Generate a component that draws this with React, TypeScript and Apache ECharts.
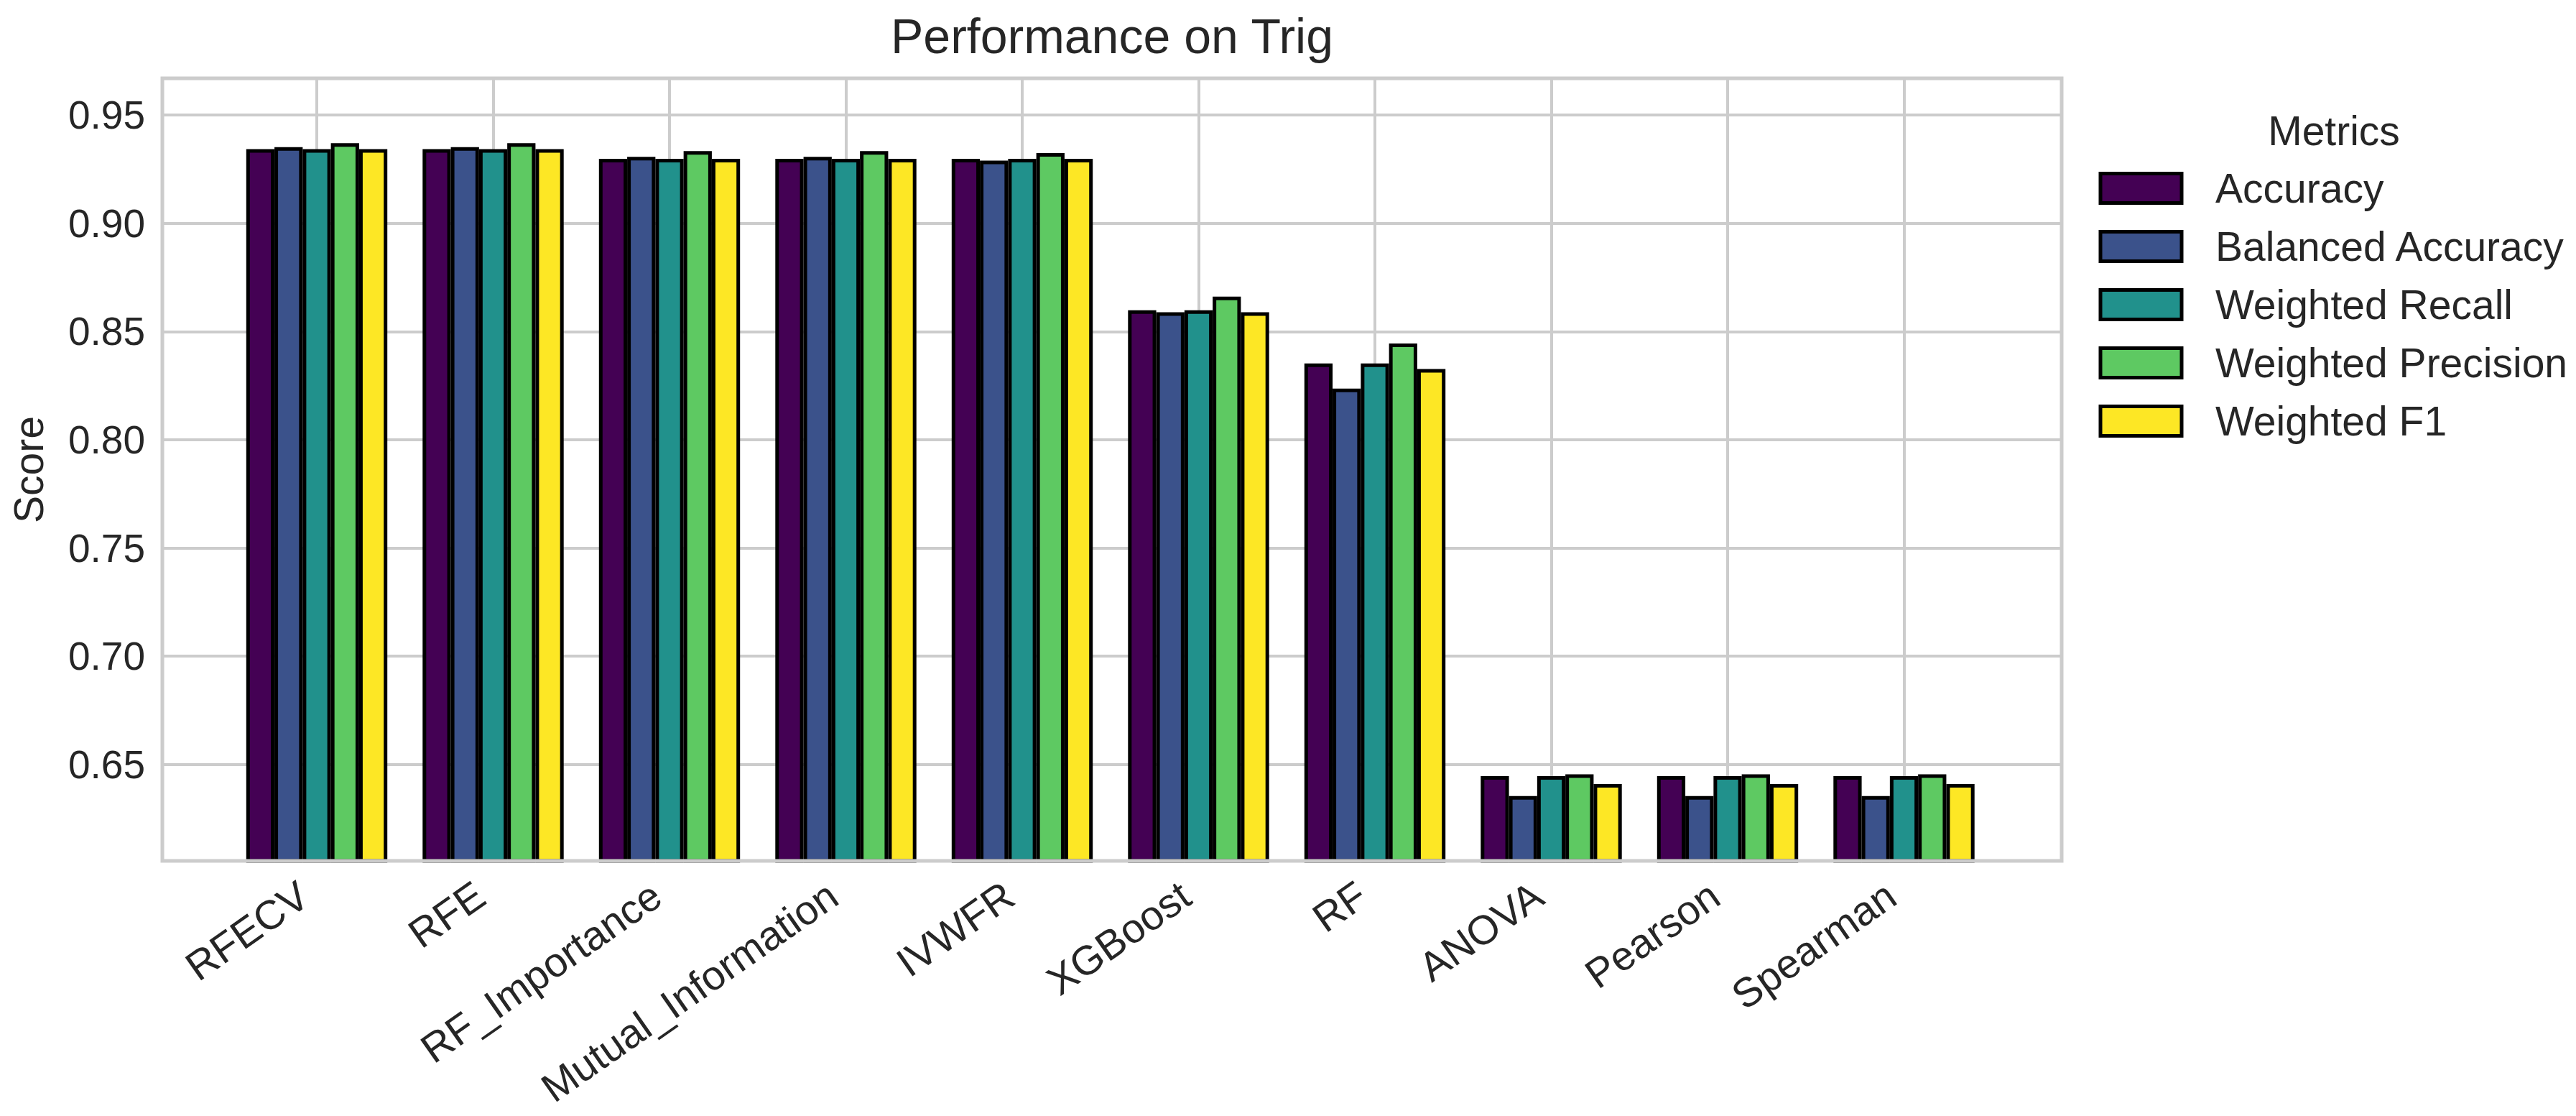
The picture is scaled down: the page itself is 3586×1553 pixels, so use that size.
import React, { useEffect, useRef } from 'react';
import * as echarts from 'echarts';

// ---------- data ----------
const categories = [
  'RFECV',
  'RFE',
  'RF_Importance',
  'Mutual_Information',
  'IVWFR',
  'XGBoost',
  'RF',
  'ANOVA',
  'Pearson',
  'Spearman',
];
const metricNames = [
  'Accuracy',
  'Balanced Accuracy',
  'Weighted Recall',
  'Weighted Precision',
  'Weighted F1',
];
const accuracy = [0.9343, 0.9343, 0.9298, 0.9298, 0.9298, 0.8598, 0.8353, 0.6446, 0.6446, 0.6446];
const balancedAccuracy = [0.9352, 0.9352, 0.9307, 0.9307, 0.929, 0.8589, 0.8236, 0.6354, 0.6354, 0.6354];
const weightedRecall = [0.9343, 0.9343, 0.9298, 0.9298, 0.9298, 0.8598, 0.8353, 0.6446, 0.6446, 0.6446];
const weightedPrecision = [0.937, 0.937, 0.9334, 0.9334, 0.9325, 0.8661, 0.8445, 0.6454, 0.6454, 0.6454];
const weightedF1 = [0.9343, 0.9343, 0.9298, 0.9298, 0.9298, 0.8589, 0.8327, 0.6409, 0.6409, 0.6409];

const yMin = 0.6054;
const yMax = 0.967;

const titleText = 'Performance on Trig';
const yAxisTitle = 'Score';
const legendTitle = 'Metrics';

// ---------- layout / style ----------
const W = 3586;
const H = 1553;
const FRAME = { left: 226, top: 109, right: 2870, bottom: 1198 };
const FIRST_CENTER = 441;
const BAND = 245.5;
const COLORS = ['#440154', '#3b528b', '#21918c', '#5ec962', '#fde725'];
const TEXT = '#262626';
const GRIDC = '#cccccc';
const FONT = 'Liberation Sans';
const LABEL_SIZE = 57;
const TICK_SIZE = 55;

export default function App() {
  const ref = useRef<HTMLDivElement>(null);

  useEffect(() => {
    if (!ref.current) return;
    const chart = echarts.init(ref.current, null, { renderer: 'svg' });
    const n = categories.length;
    const lastCenter = FIRST_CENTER + (n - 1) * BAND;
    const barsLeft = FIRST_CENTER - BAND / 2;
    const barsRight = lastCenter + BAND / 2;
    const common = { top: FRAME.top, bottom: H - FRAME.bottom, containLabel: false, outerBoundsMode: 'none' };
    const seriesValues = [accuracy, balancedAccuracy, weightedRecall, weightedPrecision, weightedF1];

    chart.setOption({
      animation: false,
      backgroundColor: '#ffffff',
      textStyle: { fontFamily: FONT },
      grid: [
        { ...common, left: FRAME.left, right: W - FRAME.right },
        { ...common, left: barsLeft, right: W - barsRight },
        { ...common, left: FIRST_CENTER, right: W - lastCenter },
      ],
      xAxis: [
        { gridIndex: 0, type: 'category', data: categories, show: false },
        {
          gridIndex: 1,
          type: 'category',
          data: categories,
          axisLine: { show: false },
          axisTick: { show: false },
          splitLine: { show: false },
          axisLabel: {
            interval: 0,
            rotate: 35,
            margin: 29,
            padding: [0, 22, 0, 0],
            fontSize: LABEL_SIZE,
            color: TEXT,
            fontFamily: FONT,
          },
        },
        {
          gridIndex: 2,
          type: 'category',
          data: categories,
          boundaryGap: false,
          axisLine: { show: false },
          axisTick: { show: false },
          axisLabel: { show: false },
          splitLine: { show: true, interval: 0, lineStyle: { color: GRIDC, width: 4 } },
        },
      ],
      yAxis: [
        {
          gridIndex: 0,
          type: 'value',
          min: yMin,
          max: yMax,
          splitNumber: 7,
          name: yAxisTitle,
          nameLocation: 'middle',
          nameGap: 158,
          nameTextStyle: { fontSize: LABEL_SIZE, color: TEXT, fontFamily: FONT },
          axisLine: { show: false },
          axisTick: { show: false },
          axisLabel: {
            showMinLabel: false,
            showMaxLabel: false,
            margin: 24,
            fontSize: TICK_SIZE,
            color: TEXT,
            fontFamily: FONT,
            formatter: (v: number) => v.toFixed(2),
          },
          splitLine: { show: true, lineStyle: { color: GRIDC, width: 4 } },
        },
        { gridIndex: 1, type: 'value', min: yMin, max: yMax, show: false },
        { gridIndex: 2, type: 'value', min: yMin, max: yMax, show: false },
      ],
      legend: {
        orient: 'vertical',
        left: 2921.5,
        top: 233.5,
        padding: 0,
        itemWidth: 113,
        itemHeight: 41,
        itemGap: 24,
        icon: 'rect',
        data: metricNames,
        itemStyle: { borderColor: '#000000', borderWidth: 5 },
        textStyle: {
          fontSize: LABEL_SIZE,
          lineHeight: LABEL_SIZE,
          color: TEXT,
          fontFamily: FONT,
          padding: [0, 0, 0, 42],
        },
      },
      graphic: [
        {
          type: 'text',
          x: (FRAME.left + FRAME.right) / 2,
          y: 50,
          silent: true,
          style: {
            text: titleText,
            fontSize: 68,
            fontFamily: FONT,
            fill: TEXT,
            align: 'center',
            verticalAlign: 'middle',
          },
        },
        {
          type: 'text',
          x: 3249,
          y: 181.5,
          silent: true,
          style: {
            text: legendTitle,
            fontSize: LABEL_SIZE,
            fontFamily: FONT,
            fill: TEXT,
            align: 'center',
            verticalAlign: 'middle',
          },
        },
        {
          type: 'rect',
          silent: true,
          z: 100,
          shape: {
            x: FRAME.left,
            y: FRAME.top,
            width: FRAME.right - FRAME.left,
            height: FRAME.bottom - FRAME.top,
          },
          style: { fill: 'none', stroke: GRIDC, lineWidth: 5 },
        },
      ],
      series: metricNames.map((name, i) => ({
        name,
        type: 'bar',
        xAxisIndex: 1,
        yAxisIndex: 1,
        data: seriesValues[i],
        barGap: '0%',
        barCategoryGap: '20%',
        itemStyle: { color: COLORS[i], borderColor: '#000000', borderWidth: 5 },
      })),
    });

    return () => chart.dispose();
  }, []);

  return (
    <div
      ref={ref}
      style={{ position: 'fixed', left: 0, top: 0, width: W, height: H }}
    />
  );
}
